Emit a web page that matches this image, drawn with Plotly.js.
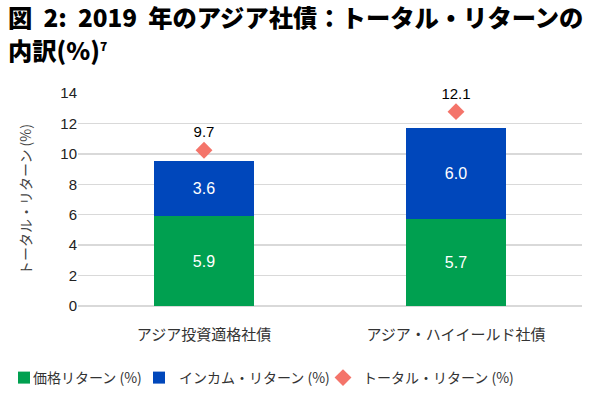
<!DOCTYPE html>
<html><head><meta charset="utf-8">
<script src="https://cdn.plot.ly/plotly-3.0.1.min.js"></script>
<style>body{margin:0;background:#fff}#t{position:absolute;left:8px;top:2px;font-family:"Noto Sans CJK JP";font-weight:900;font-size:24.3px;line-height:29px;color:#000;z-index:5;white-space:nowrap}
.legendtext{transform:translateX(-11px)}</style>
</head><body>
<div id="chart" style="width:593px;height:393px"></div>
<script>
const categories = ["アジア投資適格社債", "アジア・ハイイールド社債"];
const priceReturn = [5.9, 5.7];
const incomeReturn = [3.6, 6.0];
const totalReturn = [9.7, 12.1];
const seriesNames = ["価格リターン (%)", "インカム・リターン (%)", "トータル・リターン (%)"];
const yTicks = [0, 2, 4, 6, 8, 10, 12, 14];

const jp = '"Noto Sans CJK JP", "Liberation Sans", sans-serif';
const num = '"Liberation Sans", Arial, sans-serif';

const traces = [
  {type:'bar', name:seriesNames[0], x:categories, y:priceReturn, legend:'legend',
   marker:{color:'#00A050'}, text:priceReturn.map(v=>v.toFixed(1)), textposition:'inside',
   insidetextanchor:'middle', textfont:{color:'#fff', size:16, family:num}, hoverinfo:'none'},
  {type:'bar', name:seriesNames[1], x:categories, y:incomeReturn, legend:'legend2',
   marker:{color:'#0047BB'}, text:incomeReturn.map(v=>v.toFixed(1)), textposition:'inside',
   insidetextanchor:'middle', textfont:{color:'#fff', size:16, family:num}, hoverinfo:'none'},
  {type:'scatter', mode:'markers+text', name:seriesNames[2], x:categories, y:totalReturn, yaxis:'y2', legend:'legend3',
   marker:{symbol:'diamond', size:13, color:'#F4746A'}, text:totalReturn.map(v=>v.toFixed(1)), cliponaxis:false,
   textposition:'top center', textfont:{color:'#000', size:15, family:num}, hoverinfo:'none'}
];

const lg = (x) => ({orientation:'h', xref:'container', yref:'container', x:x, xanchor:'left',
  y:1-378/393, yanchor:'middle', font:{family:jp, size:14, color:'#333'}, itemwidth:30, bgcolor:'rgba(0,0,0,0)'});

const layout = {
  width:593, height:393,
  margin:{l:78, r:11, t:93, b:87},
  paper_bgcolor:'#fff', plot_bgcolor:'#fff',
  barmode:'stack', bargap:0.6,
  showlegend:true,
  legend:lg(4/593), legend2:lg(139/593), legend3:lg(323/593),
  xaxis:{type:'category', tickfont:{family:jp, size:15, color:'#333'}, showline:false, ticks:'', ticklen:0, showgrid:false, automargin:false, ticklabelstandoff:18},
  yaxis:{range:[0,14], tickvals:yTicks, ticktext:yTicks.map(String), tickfont:{family:num, size:15, color:'#222'},
    gridcolor:'#d9d9d9', gridwidth:1.5, zeroline:true, zerolinecolor:'#d9d9d9', zerolinewidth:1.5, ticks:'', ticklen:0, automargin:false,
    title:{text:'トータル・リターン (%)', font:{family:jp, size:14, color:'#444'}, standoff:25}},
  yaxis2:{overlaying:'y', range:[0,13.26], visible:false, showgrid:false, zeroline:false},
};
Plotly.newPlot('chart', traces, layout, {displayModeBar:false, staticPlot:true});
</script>
<div id="t">図&nbsp; 2:&nbsp; 2019&nbsp; 年のアジア社債：トータル・リターンの<br>内訳(%)<sup style="font-size:12px">7</sup></div>
</body></html>
